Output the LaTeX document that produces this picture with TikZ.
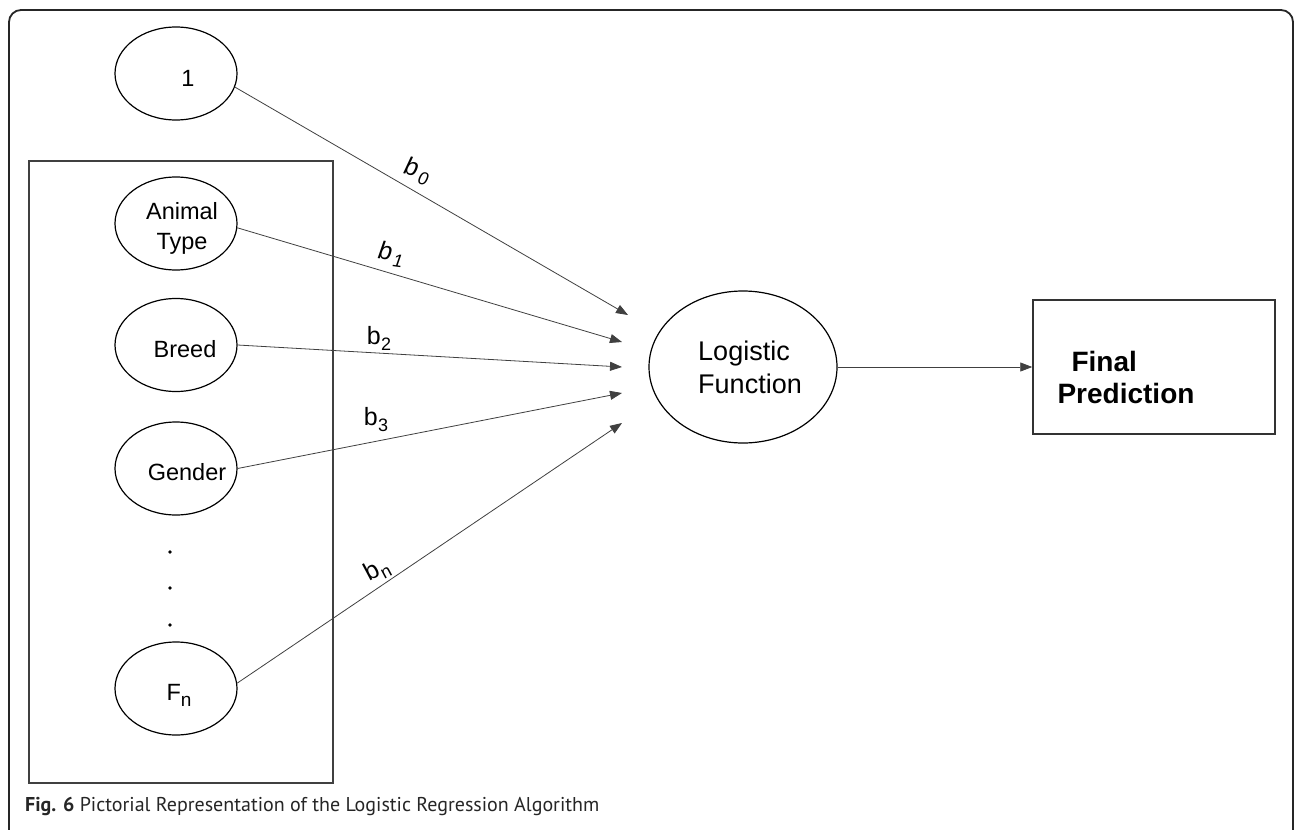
\documentclass[tikz,border=0pt]{standalone}
\usepackage{fontspec}
\setmainfont{Liberation Sans}
\newfontfamily\capfont{PT Sans}
\usetikzlibrary{shapes.geometric,arrows.meta}
\begin{document}
\begin{tikzpicture}[x=1pt,y=-1pt,
  feat/.style={draw=black, line width=1.2pt, ellipse, minimum width=122pt, minimum height=93pt, inner sep=0pt},
  conn/.style={draw=black!75, line width=0.8pt, -{Triangle[length=12pt,width=9pt]}},
  ftext/.style={font=\fontsize{23.5}{30}\selectfont, align=center, inner sep=0pt},
  wlab/.style={font=\fontsize{25}{30}\selectfont, inner sep=0pt},
  ]
\useasboundingbox (0,0) rectangle (1296,830);
\clip (0,0) rectangle (1296,830);
\fill[white] (0,0) rectangle (1296,830);
% frames
\draw[line width=1.8pt, black!85, rounded corners=12pt] (9,10) rectangle (1293,845);
\draw[line width=1.5pt, black!75] (29,161) rectangle (333,783);
% input nodes
\node[feat, label={[ftext, xshift=12pt, yshift=-5pt]center:1}] (one) at (176,73.5) {};
\node[feat, label={[ftext, xshift=6pt, yshift=-5pt]center:Animal\\Type}] (animal) at (176,223.5) {};
\node[feat, label={[ftext, xshift=9pt, yshift=-4pt]center:Breed}] (breed) at (176,345) {};
\node[feat, label={[ftext, xshift=11pt, yshift=-4pt]center:Gender}] (gender) at (176,468.5) {};
\node[feat, label={[ftext, xshift=3pt, yshift=-7pt]center:F\raisebox{-6pt}{\fontsize{19}{19}\selectfont n}}] (fn) at (176,688.5) {};
% dots
\fill (170,552) circle (1.8pt);
\fill (170,588) circle (1.8pt);
\fill (170,625) circle (1.8pt);
% logistic function
\node[draw=black, line width=1.2pt, ellipse, minimum width=188pt, minimum height=152pt, inner sep=0pt,
  label={[font=\fontsize{27}{33}\selectfont, align=left, inner sep=0pt, xshift=7pt]center:Logistic\\Function}] (lf) at (743,367) {};
% final prediction
\node[draw=black!80, line width=1.5pt, rectangle, minimum width=242pt, minimum height=134pt, inner sep=0pt,
  label={[font=\bfseries\fontsize{28}{32}\selectfont, align=left, inner sep=0pt, xshift=-28pt, yshift=-10pt]center:\hspace*{14pt}Final\\Prediction}] (fp) at (1154,367) {};
% arrow targets
\coordinate (t0) at (628,315);
\coordinate (t1) at (622,342);
\coordinate (t2) at (622,367);
\coordinate (t3) at (622,393);
\coordinate (tn) at (622,423);
\draw[conn] (one.-13) -- (t0);
\draw[conn] (animal.-4) -- (t1);
\draw[conn] (breed.east) -- (t2);
\draw[conn] (gender.east) -- (t3);
\draw[conn] (fn.5) -- (tn);
\draw[conn] (lf.east) -- (fp.west);
% weight labels
\node[wlab, rotate=-14] (lb0) at (417,171) {\itshape b\kern2pt\raisebox{-6pt}{\fontsize{18}{18}\selectfont\itshape 0}};
\node[wlab, rotate=-8] (lb1) at (391,254) {\itshape b\kern2pt\raisebox{-6pt}{\fontsize{18}{18}\selectfont\itshape 1}};
\node[wlab] (lb2) at (379,338) {b\kern0.5pt\raisebox{-6pt}{\fontsize{18}{18}\selectfont 2}};
\node[wlab] (lb3) at (376,420) {b\kern0.5pt\raisebox{-6pt}{\fontsize{18}{18}\selectfont 3}};
\node[wlab, rotate=28] (lbn) at (377,570) {b\kern0.5pt\raisebox{-5pt}{\fontsize{18}{18}\selectfont n}};
% caption
\node[anchor=west, font=\capfont\fontsize{20}{22}\selectfont, text=black!85, inner sep=0pt] (cap) at (25,806)
  {\textbf{Fig. 6} Pictorial Representation of the Logistic Regression Algorithm};
\end{tikzpicture}
\end{document}
